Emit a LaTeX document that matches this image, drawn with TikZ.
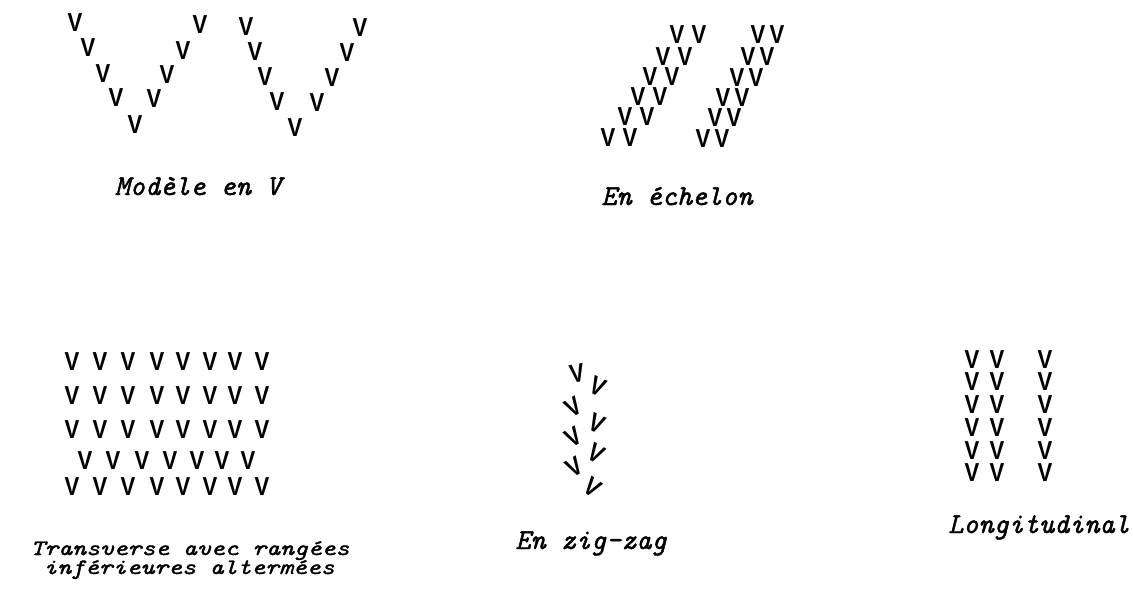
\documentclass[tikz,border=0pt]{standalone}
\usepackage{fontspec}
\newfontfamily\vfont{Liberation Sans}
\newfontfamily\lblfont{lmmono10-italic.otf}[FakeBold=1.5]
\newcommand{\vmark}{\scalebox{0.85}[1]{V}}
\begin{document}
\begin{tikzpicture}[x=1pt,y=-1pt,
  vv/.style={inner sep=0pt, font=\vfont\bfseries\fontsize{26}{26}\selectfont},
  lbl/.style={inner sep=0pt, anchor=base, font=\lblfont\fontsize{28.8}{28.8}\selectfont},
  lbls/.style={lbl, font=\lblfont\fontsize{22}{22}\selectfont}]
\useasboundingbox (0,0) rectangle (1133,594);
% Modele en V
\foreach \x/\y [count=\i] in {75/23,88/48,103/74,116/98,135/125,154/99,167/75,183/51,200/25}
  \node[vv] (va\i) at (\x,\y) {\vmark};
\foreach \x/\y [count=\i] in {246/27,255/52,265/77,277/102,295/128,317/103,332/78,347/53,360/28}
  \node[vv] (vb\i) at (\x,\y) {\vmark};
\node[lbl] (lmodele) at (198,195) {Modèle en V};
% En echelon
\foreach \x/\y [count=\i] in {677/35,663/57,650/77,638/97,625/117,608/138}{
  \node[vv] (ea\i) at (\x,\y) {\vmark};
  \node[vv] (eb\i) at (\x+22,\y) {\vmark};}
\foreach \x/\y [count=\i] in {758/35,748/57,737/78,723/98,715/118,703/139}{
  \node[vv] (ec\i) at (\x,\y) {\vmark};
  \node[vv] (ed\i) at (\x+19,\y) {\vmark};}
\node[lbl] (lechelon) at (677,205) {En échelon};
% Transverse
\foreach \y [count=\r] in {362,396,430,487}
  \foreach \x [count=\c] in {72,100,128,157,183,210,235,262}
    \node[vv] (t\r-\c) at (\x,\y) {\vmark};
\foreach \x [count=\c] in {85,113,142,170,197,222,248}
  \node[vv] (tm-\c) at (\x,461) {\vmark};
\node[lbls] (ltrans1) at (190,555) {\scalebox{1.2}[1]{Transverse avec rangées}};
\node[lbls] (ltrans2) at (189,574) {\scalebox{1.2}[1]{inférieures altermées}};
% Zig-zag
\node[vv,rotate=10] (z1) at (577,373) {\vmark};
\node[vv,rotate=-25] (z2) at (598,387) {\vmark};
\node[vv,rotate=30] (z3) at (573,407) {\vmark};
\node[vv,rotate=-25] (z4) at (597,424) {\vmark};
\node[vv,rotate=30] (z5) at (573,437) {\vmark};
\node[vv,rotate=-30] (z6) at (596,453) {\vmark};
\node[vv,rotate=30] (z7) at (574,467) {\vmark};
\node[vv,rotate=-35] (z8) at (593,487) {\vmark};
\node[lbl] (lzig) at (591,549) {En zig-zag};
% Longitudinal
\foreach \y [count=\r] in {360,382,405,428,451,473}{
  \node[vv] (la\r) at (972,\y) {\vmark};
  \node[vv] (lb\r) at (997,\y) {\vmark};
  \node[vv] (lc\r) at (1045,\y) {\vmark};}
\node[lbl] (llong) at (1039,533) {Longitudinal};
\end{tikzpicture}
\end{document}
